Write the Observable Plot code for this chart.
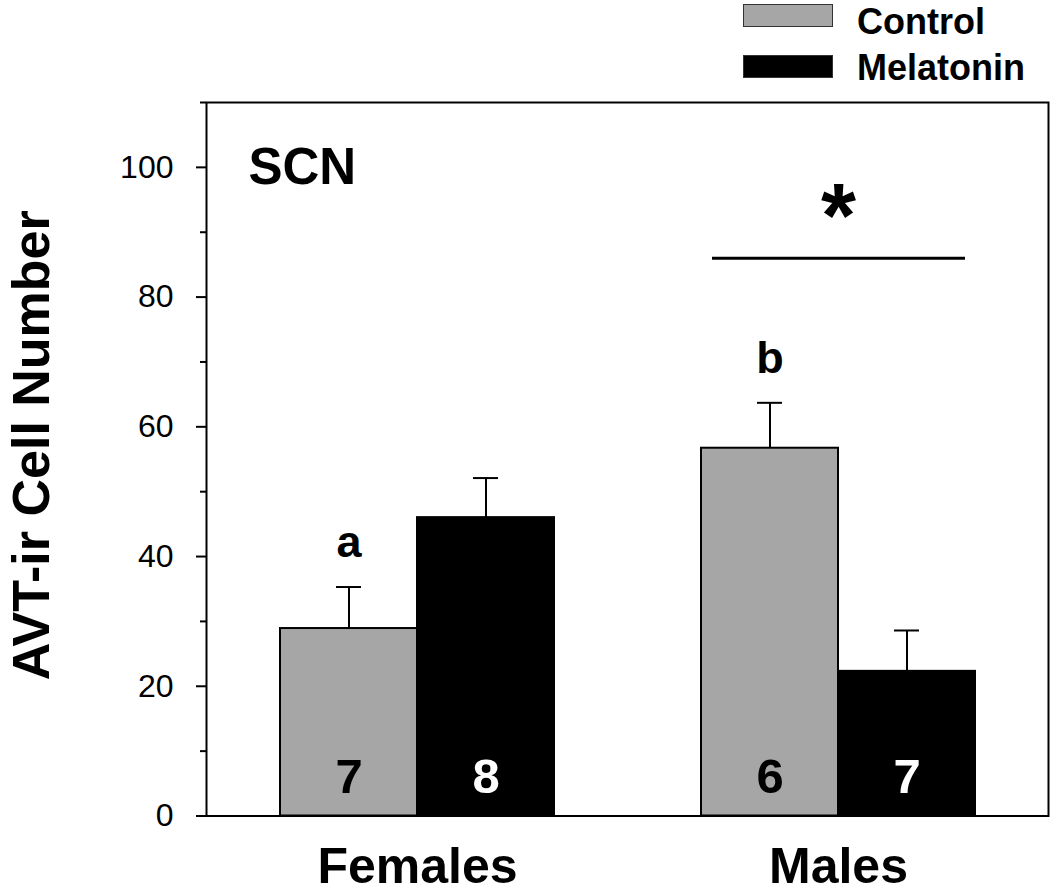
<!DOCTYPE html>
<html>
<head>
<meta charset="utf-8">
<script src="https://cdn.jsdelivr.net/npm/d3@7"></script>
<script src="https://cdn.jsdelivr.net/npm/@observablehq/plot@0.6"></script>
<style>
  html, body { margin: 0; padding: 0; background: #fff; }
  body { width: 1050px; height: 892px; position: relative; overflow: hidden; font-family: "Liberation Sans", Arial, sans-serif; }
  #legend { position: absolute; left: 0; top: 0; width: 1050px; height: 100px; z-index: 2; }
  .sw { position: absolute; left: 743px; width: 88px; height: 21px; border: 1.5px solid #333; }
  .lt { position: absolute; left: 857px; font-size: 36px; font-weight: bold; line-height: normal; color: #000; white-space: nowrap; }
</style>
</head>
<body>
<div id="legend"></div>
<div id="chart"></div>
<script>
// ---- data ----
const groups = ["Females", "Males"];
const treatments = ["Control", "Melatonin"];
const treatmentColors = ["#a6a6a6", "#000000"];
const controlMeans = [28.9, 56.7];
const controlSE = [6.4, 7.0];
const melatoninMeans = [46.0, 22.3];
const melatoninSE = [6.1, 6.3];
const controlN = [7, 6];
const melatoninN = [8, 7];
const groupLetters = ["a", "b"];
const yTicks = [0, 20, 40, 60, 80, 100];
const yMinorTicks = [10, 30, 50, 70, 90, 110];
const yDomain = [0, 110];
const panelLabel = "SCN";
const yLabel = "AVT-ir Cell Number";
const sigGroup = ["Males"];
const sigLevel = [86];
const sigSymbol = "*";

// ---- tables ----
const controlRows = groups.map((g, i) => ({group: g, mean: controlMeans[i], top: controlMeans[i] + controlSE[i], n: controlN[i], letter: groupLetters[i]}));
const melatoninRows = groups.map((g, i) => ({group: g, mean: melatoninMeans[i], top: melatoninMeans[i] + melatoninSE[i], n: melatoninN[i]}));
const sigRows = sigGroup.map((g, i) => ({group: g, y: sigLevel[i]}));

// ---- legend ----
const legend = document.getElementById("legend");
const swatchTops = [4, 55];
const labelTops = [1, 47];
treatments.forEach((t, i) => {
  const sw = document.createElement("div");
  sw.className = "sw";
  sw.style.top = swatchTops[i] + "px";
  sw.style.background = treatmentColors[i];
  legend.appendChild(sw);
  const lt = document.createElement("div");
  lt.className = "lt";
  lt.style.top = labelTops[i] + "px";
  lt.textContent = t;
  legend.appendChild(lt);
});

const half = 137;
const font = "Liberation Sans, Arial, sans-serif";

const chart = Plot.plot({
  width: 1050,
  height: 892,
  marginLeft: 206,
  marginRight: 2,
  marginTop: 102,
  marginBottom: 76.5,
  style: {fontFamily: font, background: "#fff", color: "#000"},
  x: {type: "band", domain: groups, paddingInner: 0.35, paddingOuter: 0.175, label: null},
  y: {domain: yDomain, label: null},
  marks: [
    Plot.barY(controlRows, {x: "group", y: "mean", fill: treatmentColors[0], stroke: "#000", strokeWidth: 2, insetRight: half}),
    Plot.barY(melatoninRows, {x: "group", y: "mean", fill: treatmentColors[1], stroke: "#000", strokeWidth: 2, insetLeft: half}),
    // error bars (upper only)
    Plot.ruleX(controlRows, {x: "group", y1: "mean", y2: "top", dx: -half / 2, strokeWidth: 2}),
    Plot.ruleX(melatoninRows, {x: "group", y1: "mean", y2: "top", dx: half / 2, strokeWidth: 2}),
    Plot.tickY(controlRows, {x: "group", y: "top", insetLeft: 56, insetRight: 2 * half - 81, strokeWidth: 2}),
    Plot.tickY(melatoninRows, {x: "group", y: "top", insetLeft: 2 * half - 81, insetRight: 56, strokeWidth: 2}),
    // n labels inside bars
    Plot.text(controlRows, {x: "group", text: "n", frameAnchor: "bottom", lineAnchor: "bottom", dx: -half / 2, dy: -23, fontSize: 49, fontWeight: "bold", fill: "#000"}),
    Plot.text(melatoninRows, {x: "group", text: "n", frameAnchor: "bottom", lineAnchor: "bottom", dx: half / 2, dy: -23, fontSize: 49, fontWeight: "bold", fill: "#fff"}),
    // letters above control bars
    Plot.text(controlRows, {x: "group", y: "top", text: "letter", lineAnchor: "bottom", dx: -half / 2, dy: -30, fontSize: 45, fontWeight: "bold", fill: "#000"}),
    // significance line and star
    Plot.ruleY(sigRows, {x1: "group", x2: "group", y: "y", insetLeft: 11, insetRight: 10, strokeWidth: 3}),
    Plot.text(sigRows, {x: "group", y: "y", text: () => sigSymbol, lineAnchor: "bottom", dy: -11, fontSize: 90, fontWeight: "bold", fill: "#000"}),
    // panel label
    Plot.text([panelLabel], {frameAnchor: "top-left", text: d => d, lineAnchor: "bottom", dx: 42, dy: 81, fontSize: 51, fontWeight: "bold", fill: "#000"}),
    // y label
    Plot.text([yLabel], {frameAnchor: "left", text: d => d, rotate: -90, lineAnchor: "bottom", textAnchor: "middle", dx: -158, dy: -14, fontSize: 52, fontWeight: "bold", fill: "#000"}),
    // axes
    Plot.axisY(yTicks, {tickSize: 10, tickPadding: 23, fontSize: 32, strokeWidth: 2, label: null}),
    Plot.axisY(yMinorTicks, {tickSize: 6, text: null, strokeWidth: 2, label: null}),
    Plot.axisX({tickSize: 0, tickPadding: 31, fontSize: 50, fontWeight: "bold", label: null}),
    Plot.frame({stroke: "#000", strokeWidth: 2})
  ]
});
document.getElementById("chart").appendChild(chart);
</script>
</body>
</html>
